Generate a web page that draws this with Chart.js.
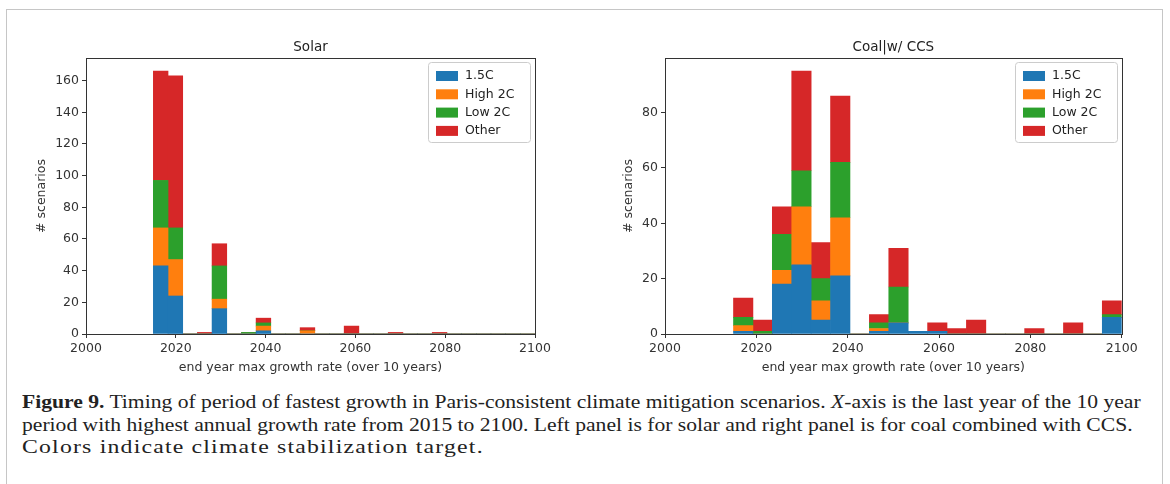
<!DOCTYPE html>
<html>
<head>
<meta charset="utf-8">
<script src="https://cdn.jsdelivr.net/npm/chart.js@4"></script>
<style>
  body { margin:0; background:#fff; width:1170px; height:484px; overflow:hidden; position:relative; }
  #frame { position:absolute; left:6px; top:9px; width:1155px; height:500px; border:1.5px solid #c6c6c6; }
  canvas.panel { position:absolute; top:0; }
  .cap { position:absolute; left:22px; font-family:'Liberation Serif', serif; font-size:19.5px; color:#222;
         white-space:nowrap; transform-origin:0 0; line-height:20px; }
</style>
</head>
<body>
<div id="frame"></div>
<canvas id="solarChart" class="panel" width="560" height="390" style="left:0"></canvas>
<canvas id="coalChart" class="panel" width="570" height="390" style="left:579px"></canvas>
<div class="cap" id="cap1" style="top:392px"><b>Figure 9.</b> Timing of period of fastest growth in Paris-consistent climate mitigation scenarios. <i>X</i>-axis is the last year of the 10 year</div>
<div class="cap" id="cap2" style="top:415px">period with highest annual growth rate from 2015 to 2100. Left panel is for solar and right panel is for coal combined with CCS.</div>
<div class="cap" id="cap3" style="top:437px">Colors indicate climate stabilization target.</div>

<script>
// climate target groups
const groupLabels = ['1.5C', 'High 2C', 'Low 2C', 'Other'];
const groupColors = ['#1f77b4', '#ff7f0e', '#2ca02c', '#d62728'];

// axis ticks
const xTicks = [2000, 2020, 2040, 2060, 2080, 2100];
const solarYTicks = [0, 20, 40, 60, 80, 100, 120, 140, 160];
const coalYTicks = [0, 20, 40, 60, 80];

// Solar: 26 histogram bins from 2015 to 2100
const solarRange = [2015, 2100];
const solar15    = [43, 24, 0, 0, 16, 0, 0, 2, 0, 0, 0, 0, 0, 0, 0, 0, 0, 0, 0, 0, 0, 0, 0, 0, 0, 0];
const solarHigh  = [24, 23, 0, 0,  6, 0, 0, 3, 0, 0, 2, 0, 0, 0, 0, 0, 0, 0, 0, 0, 0, 0, 0, 0, 0, 0];
const solarLow   = [30, 20, 0, 0, 21, 0, 1, 2, 0, 0, 0, 0, 0, 0, 0, 0, 0, 0, 0, 0, 0, 0, 0, 0, 0, 0];
const solarOther = [69, 96, 0, 1, 14, 0, 0, 3, 0, 0, 2, 0, 0, 5, 0, 0, 1, 0, 0, 1, 0, 0, 0, 0, 0, 0];

// Coal w/ CCS: 20 histogram bins from 2015 to 2100
const coalRange = [2015, 2100];
const coal15    = [1, 0, 18, 25, 5, 21, 0, 1,  4, 1, 1, 0, 0, 0, 0, 0, 0, 0, 0, 6];
const coalHigh  = [2, 0,  5, 21, 7, 21, 0, 1,  0, 0, 0, 0, 0, 0, 0, 0, 0, 0, 0, 0];
const coalLow   = [3, 1, 13, 13, 8, 20, 0, 2, 13, 0, 0, 0, 0, 0, 0, 0, 0, 0, 0, 1];
const coalOther = [7, 4, 10, 36, 13, 24, 0, 3, 14, 0, 3, 2, 5, 0, 0, 2, 0, 4, 0, 5];

const xTitle = 'end year max growth rate (over 10 years)';
const yTitle = '# scenarios';
const tickFont = { family: 'DejaVu Sans', size: 12.5 };
const ink = '#333';

// frame, title and legend drawn over the chart area (matplotlib style)
const panelDecor = {
  id: 'panelDecor',
  afterDraw(chart, args, opts) {
    const { ctx, chartArea: a } = chart;
    ctx.save();
    ctx.strokeStyle = ink;
    ctx.lineWidth = 1;
    ctx.strokeRect(Math.round(a.left) + 0.5, Math.round(a.top) + 0.5,
                   Math.round(a.right - a.left), Math.round(a.bottom - a.top));
    ctx.fillStyle = '#222';
    ctx.font = '13.5px "DejaVu Sans"';
    ctx.textAlign = 'center';
    ctx.textBaseline = 'middle';
    ctx.fillText(opts.title, (a.left + a.right) / 2, a.top - 11);

    const w = 102, h = 80;
    const x0 = Math.round(a.right - 5 - w), y0 = Math.round(a.top + 4);
    ctx.fillStyle = 'rgba(255,255,255,0.8)';
    ctx.strokeStyle = '#cccccc';
    ctx.beginPath();
    ctx.roundRect(x0 + 0.5, y0 + 0.5, w, h, 3);
    ctx.fill();
    ctx.stroke();
    ctx.font = '12.5px "DejaVu Sans"';
    ctx.textAlign = 'left';
    chart.data.datasets.forEach((ds, i) => {
      const cy = y0 + 14 + i * 18.3;
      ctx.fillStyle = ds.backgroundColor;
      ctx.fillRect(x0 + 8, cy - 5, 22, 10);
      ctx.fillStyle = '#222';
      ctx.fillText(ds.label, x0 + 37, cy);
    });
    ctx.restore();
  }
};

function binCenters(range, n) {
  const w = (range[1] - range[0]) / n;
  return Array.from({ length: n }, (_, i) => range[0] + (i + 0.5) * w);
}

function makePanel(canvasId, title, range, series, yMax, yTicks, padRight, yTitlePad) {
  const centers = binCenters(range, series[0].length);
  const datasets = series.map((vals, i) => ({
    label: groupLabels[i],
    data: vals.map((v, k) => ({ x: centers[k], y: v })),
    backgroundColor: groupColors[i],
    borderWidth: 0,
    categoryPercentage: 1,
    barPercentage: 1,
  }));

  return new Chart(document.getElementById(canvasId), {
    type: 'bar',
    data: { datasets },
    plugins: [panelDecor],
    options: {
      responsive: false,
      animation: false,
      layout: { padding: { top: 58, right: padRight, left: 0, bottom: 0 } },
      plugins: { legend: { display: false }, tooltip: { enabled: false }, panelDecor: { title } },
      scales: {
        x: {
          type: 'linear', stacked: true, min: 2000, max: 2100, offset: false,
          grid: { offset: false, drawOnChartArea: false, tickLength: 4, color: ink },
          border: { color: ink },
          ticks: { color: ink, font: tickFont, padding: 3, maxRotation: 0, callback: v => String(v) },
          afterBuildTicks: s => { s.ticks = xTicks.map(value => ({ value })); },
          title: { display: true, text: xTitle, color: ink, font: tickFont, padding: { top: 0, bottom: 15 } },
          afterFit: s => { s.height = 56; }
        },
        y: {
          stacked: true, min: 0, max: yMax,
          grid: { drawOnChartArea: false, tickLength: 4, color: ink },
          border: { color: ink },
          ticks: { color: ink, font: tickFont, padding: 3, callback: v => String(v) },
          afterBuildTicks: s => { s.ticks = yTicks.map(value => ({ value })); },
          title: { display: true, text: yTitle, color: ink, font: tickFont, padding: { top: yTitlePad, bottom: 0 } },
          afterFit: s => { s.width = 86; }
        }
      }
    }
  });
}

makePanel('solarChart', 'Solar', solarRange, [solar15, solarHigh, solarLow, solarOther], 174.3, solarYTicks, 25, 34.5);
makePanel('coalChart', 'Coal|w/ CCS', coalRange, [coal15, coalHigh, coalLow, coalOther], 99.75, coalYTicks, 27.3, 42);

// condense the caption so the justified first line spans the figure width;
// the last (unjustified) line is printed a little looser, reaching x≈484
const capScale = 1119 / document.getElementById('cap1').offsetWidth;
document.getElementById('cap1').style.transform = `scaleX(${capScale})`;
document.getElementById('cap2').style.transform = `scaleX(${capScale})`;
const cap3 = document.getElementById('cap3');
const cap3Scale = capScale * 1.1;
cap3.style.transform = `scaleX(${cap3Scale})`;
const extra = 462 / cap3Scale - cap3.offsetWidth;
cap3.style.letterSpacing = `${Math.max(0, extra) / cap3.textContent.length}px`;
</script>
</body>
</html>
